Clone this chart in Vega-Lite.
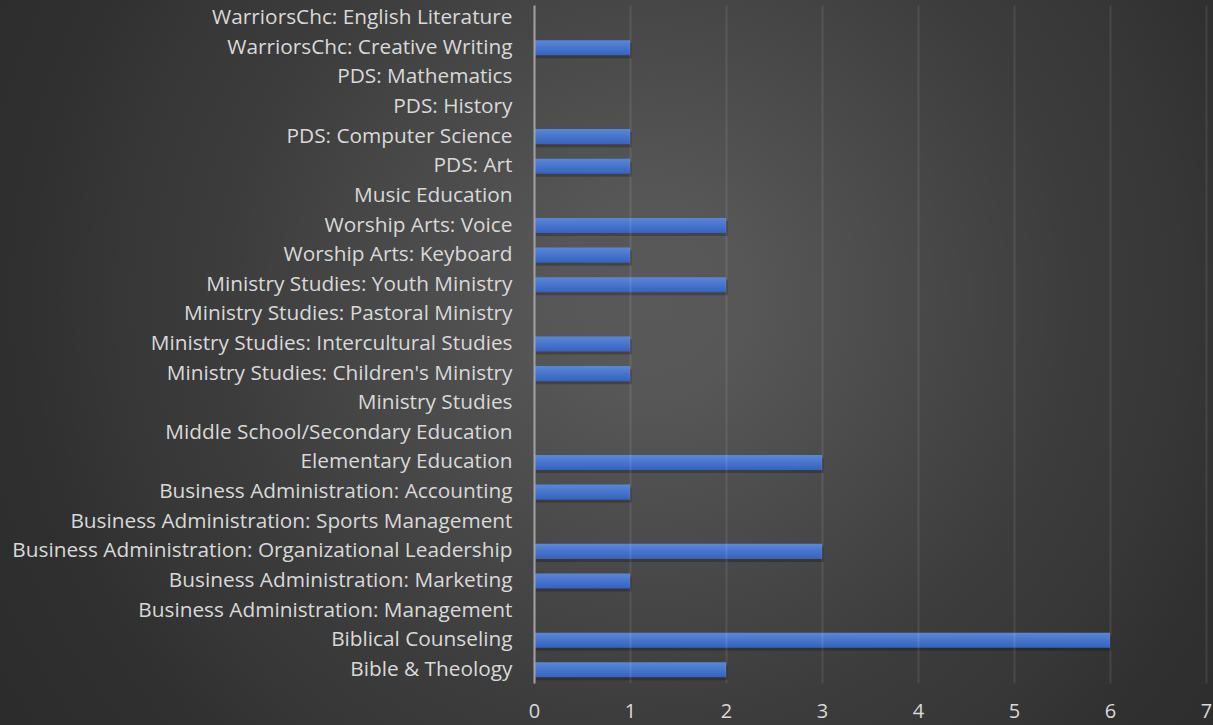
{
  "$schema": "https://vega.github.io/schema/vega-lite/v6.json",
  "width": 672,
  "height": 678,
  "autosize": {"type": "none"},
  "padding": {"left": 534, "top": 5, "right": 7, "bottom": 42},
  "background": "#2c2c2c",
  "config": {
    "view": {"stroke": null},
    "font": "Open Sans"
  },
  "data": {
    "values": [
      {"program": "WarriorsChc: English Literature", "count": 0},
      {"program": "WarriorsChc: Creative Writing", "count": 1},
      {"program": "PDS: Mathematics", "count": 0},
      {"program": "PDS: History", "count": 0},
      {"program": "PDS: Computer Science", "count": 1},
      {"program": "PDS: Art", "count": 1},
      {"program": "Music Education", "count": 0},
      {"program": "Worship Arts: Voice", "count": 2},
      {"program": "Worship Arts: Keyboard", "count": 1},
      {"program": "Ministry Studies: Youth Ministry", "count": 2},
      {"program": "Ministry Studies: Pastoral Ministry", "count": 0},
      {"program": "Ministry Studies: Intercultural Studies", "count": 1},
      {"program": "Ministry Studies: Children's Ministry", "count": 1},
      {"program": "Ministry Studies", "count": 0},
      {"program": "Middle School/Secondary Education", "count": 0},
      {"program": "Elementary Education", "count": 3},
      {"program": "Business Administration: Accounting", "count": 1},
      {"program": "Business Administration: Sports Management", "count": 0},
      {"program": "Business Administration: Organizational Leadership", "count": 3},
      {"program": "Business Administration: Marketing", "count": 1},
      {"program": "Business Administration: Management", "count": 0},
      {"program": "Biblical Counseling", "count": 6},
      {"program": "Bible & Theology", "count": 2}
    ]
  },
  "resolve": {"scale": {"y": "independent"}},
  "layer": [
    {
      "data": {"values": [{}]},
      "mark": {
        "type": "rect",
        "clip": false,
        "fill": {
          "gradient": "radial",
          "x1": 0.536, "y1": 0.449, "r1": 0,
          "x2": 0.536, "y2": 0.449, "r2": 0.7,
          "stops": [
            {"offset": 0, "color": "#595959"},
            {"offset": 0.114, "color": "#575757"},
            {"offset": 0.5, "color": "#3c3c3c"},
            {"offset": 0.62, "color": "#373737"},
            {"offset": 0.73, "color": "#303030"},
            {"offset": 0.894, "color": "#2c2c2c"},
            {"offset": 1, "color": "#2a2a2a"}
          ]
        }
      },
      "encoding": {
        "x": {"datum": -5.6, "type": "quantitative", "scale": {"domain": [0, 7], "nice": false}},
        "x2": {"datum": 7.1},
        "y": {"datum": 1.372, "type": "quantitative", "scale": {"domain": [0, 1], "nice": false, "zero": false}, "axis": null},
        "y2": {"datum": -0.426}
      }
    },
    {
      "mark": {"type": "bar", "color": "#000000", "opacity": 0.22, "yOffset": 3, "xOffset": 2},
      "encoding": {
        "y": {"field": "program", "type": "nominal", "sort": null, "scale": {"paddingInner": 0.49, "paddingOuter": 0.19}, "axis": null},
        "x": {"field": "count", "type": "quantitative", "scale": {"domain": [0, 7], "nice": false}}
      }
    },
    {
      "mark": {
        "type": "bar",
        "fill": {
          "gradient": "linear",
          "x1": 0, "y1": 0, "x2": 0, "y2": 1,
          "stops": [
            {"offset": 0, "color": "#5b87d7"},
            {"offset": 1, "color": "#3462bf"}
          ]
        }
      },
      "encoding": {
        "y": {
          "field": "program", "type": "nominal", "sort": null,
          "scale": {"paddingInner": 0.49, "paddingOuter": 0.19},
          "axis": {
            "title": null,
            "ticks": false,
            "zindex": 1,
            "domainColor": "#a0a0a0",
            "domainWidth": 2,
            "labelColor": "#d9d9d9",
            "labelFontSize": 20.8,
            "labelPadding": 22,
            "labelLimit": 0
          }
        },
        "x": {
          "field": "count", "type": "quantitative",
          "scale": {"domain": [0, 7], "nice": false},
          "axis": {
            "title": null,
            "values": [0, 1, 2, 3, 4, 5, 6, 7],
            "tickCount": 8,
            "ticks": false,
            "domain": false,
            "zindex": 1,
            "grid": true,
            "gridColor": "#ffffff",
            "gridOpacity": 0.09,
            "gridWidth": 2,
            "labelColor": "#d9d9d9",
            "labelFontSize": 20,
            "labelPadding": 18,
            "labelFlush": false,
            "labelOverlap": false
          }
        }
      }
    }
  ]
}
